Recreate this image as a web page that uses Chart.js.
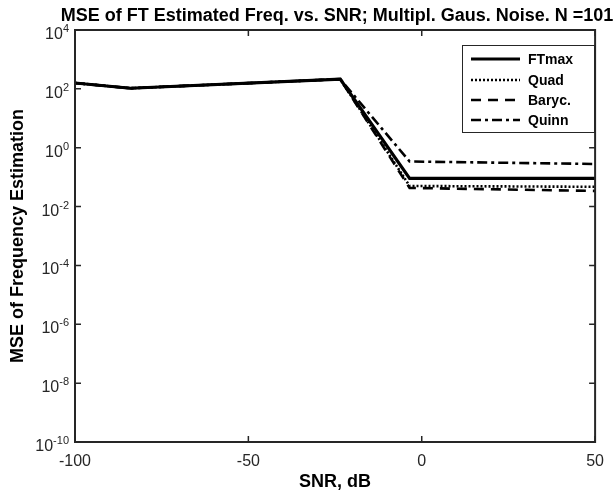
<!DOCTYPE html>
<html>
<head>
<meta charset="utf-8">
<script src="https://cdn.jsdelivr.net/npm/chart.js@4/dist/chart.umd.min.js"></script>
<style>
html,body{margin:0;padding:0;background:#fff;}
canvas{display:block;}
</style>
</head>
<body>
<canvas id="c" width="614" height="495"></canvas>
<script>
// ---- data ----
const snrDb   = [-100, -84, -23.5, -3.5, 50];
const ftmax   = [158, 105, 214, 0.091, 0.091];
const quad    = [158, 105, 214, 0.050, 0.047];
const baryc   = [158, 105, 214, 0.043, 0.034];
const quinn   = [158, 105, 214, 0.34, 0.28];
const seriesNames = ['FTmax', 'Quad', 'Baryc.', 'Quinn'];
const xTickValues = [-100, -50, 0, 50];
const yTickExponents = [-10, -8, -6, -4, -2, 0, 2, 4];
const titleText = 'MSE of FT Estimated Freq. vs. SNR; Multipl. Gaus. Noise. N =101';
const xLabel = 'SNR, dB';
const yLabel = 'MSE of Frequency Estimation';

const FONT = '"Liberation Sans", Arial, Helvetica, sans-serif';
const AXC = '#262626';

function pts(ys){ return snrDb.map((x,i)=>({x:x,y:ys[i]})); }

const styles = [
  {w:3.2, dash:[]},
  {w:2.6, dash:[2,2]},
  {w:2.6, dash:[10,7]},
  {w:2.6, dash:[10,4,3,4]}
];
const allSeries = [ftmax, quad, baryc, quinn];

const datasets = allSeries.map((s,i)=>({
  label: seriesNames[i],
  data: pts(s),
  borderColor: '#000',
  borderWidth: styles[i].w,
  borderDash: styles[i].dash,
  pointRadius: 0,
  fill: false,
  tension: 0
}));

const decor = {
  id: 'decor',
  afterDraw(chart){
    const ctx = chart.ctx;
    const a = chart.chartArea;
    const xs = chart.scales.x, ys = chart.scales.y;
    ctx.save();
    // box
    ctx.strokeStyle = AXC;
    ctx.lineWidth = 2;
    ctx.strokeRect(a.left, a.top, a.right - a.left, a.bottom - a.top);
    // inward ticks
    ctx.lineWidth = 1.5;
    const tl = 6;
    yTickExponents.forEach(e=>{
      const y = ys.getPixelForValue(Math.pow(10,e));
      ctx.beginPath();
      ctx.moveTo(a.left, y); ctx.lineTo(a.left + tl, y);
      ctx.moveTo(a.right, y); ctx.lineTo(a.right - tl, y);
      ctx.stroke();
    });
    xTickValues.forEach(v=>{
      const x = xs.getPixelForValue(v);
      ctx.beginPath();
      ctx.moveTo(x, a.bottom); ctx.lineTo(x, a.bottom - tl);
      ctx.moveTo(x, a.top); ctx.lineTo(x, a.top + tl);
      ctx.stroke();
    });
    // y tick labels: 10 with superscript exponent
    ctx.fillStyle = AXC;
    ctx.textBaseline = 'alphabetic';
    ctx.textAlign = 'left';
    yTickExponents.forEach(e=>{
      const y = ys.getPixelForValue(Math.pow(10,e));
      const es = String(e);
      ctx.font = '11px ' + FONT;
      const ew = ctx.measureText(es).width;
      ctx.font = '16px ' + FONT;
      const bw = ctx.measureText('10').width;
      const right = a.left - 6;
      const bx = right - ew - bw;
      ctx.fillText('10', bx, y + 9);
      ctx.font = '11px ' + FONT;
      ctx.fillText(es, bx + bw, y + 2);
    });
    // title
    ctx.fillStyle = '#000';
    ctx.font = 'bold 18px ' + FONT;
    ctx.textAlign = 'center';
    ctx.textBaseline = 'alphabetic';
    ctx.fillText(titleText, (a.left + a.right)/2 + 2, 21);
    // legend
    const lx = 462, ly = 45, lw = 132, lh = 87;
    ctx.fillStyle = '#fff';
    ctx.fillRect(lx, ly, lw, lh);
    ctx.strokeStyle = AXC;
    ctx.lineWidth = 1;
    ctx.strokeRect(lx + 0.5, ly + 0.5, lw, lh);
    const rows = [59, 80, 100, 120];
    ctx.font = 'bold 14px ' + FONT;
    ctx.textAlign = 'left';
    ctx.textBaseline = 'middle';
    datasets.forEach((d,i)=>{
      ctx.strokeStyle = '#000';
      ctx.lineWidth = d.borderWidth;
      ctx.setLineDash(d.borderDash);
      ctx.beginPath();
      ctx.moveTo(471, rows[i]); ctx.lineTo(520, rows[i]);
      ctx.stroke();
      ctx.setLineDash([]);
      ctx.fillStyle = '#000';
      ctx.fillText(d.label, 528, rows[i] + 1);
    });
    ctx.restore();
  }
};

new Chart(document.getElementById('c'), {
  type: 'line',
  data: { datasets: datasets },
  options: {
    responsive: false,
    animation: false,
    layout: { padding: { top: 30, right: 16, left: 0, bottom: 0 } },
    plugins: { legend: { display: false }, title: { display: false }, tooltip: { enabled: false } },
    scales: {
      x: {
        type: 'linear', min: -100, max: 50,
        afterBuildTicks: s => { s.ticks = xTickValues.map(v => ({ value: v })); },
        afterFit: s => { s.height = 53; },
        grid: { display: false, drawTicks: false },
        border: { display: false },
        ticks: { padding: 10, color: AXC, font: { family: FONT, size: 16 }, maxRotation: 0, callback: v => String(v) },
        title: { display: true, text: xLabel, color: '#000', font: { family: FONT, size: 18, weight: 'bold' }, padding: { top: 0, bottom: 2 } }
      },
      y: {
        type: 'logarithmic', min: 1e-10, max: 1e4,
        afterBuildTicks: s => { s.ticks = yTickExponents.map(e => ({ value: Math.pow(10, e) })); },
        afterFit: s => { s.width = 75; },
        grid: { display: false, drawTicks: false },
        border: { display: false },
        ticks: { display: false },
        title: { display: true, text: yLabel, color: '#000', font: { family: FONT, size: 18, weight: 'bold' }, padding: { top: 7, bottom: 0 } }
      }
    }
  },
  plugins: [decor]
});
</script>
</body>
</html>
